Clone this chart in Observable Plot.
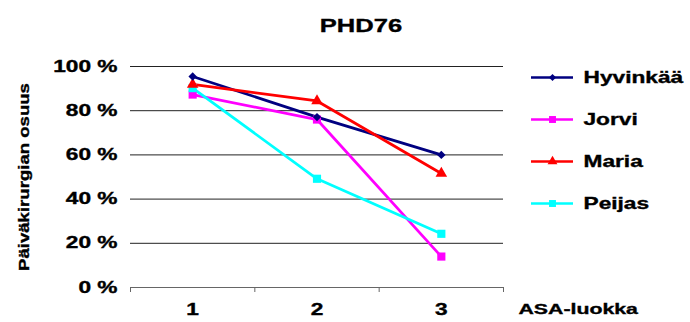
<!DOCTYPE html>
<html><head><meta charset="utf-8">
<script src="https://cdn.jsdelivr.net/npm/d3@7"></script>
<script src="https://cdn.jsdelivr.net/npm/@observablehq/plot@0.6"></script>
<style>
body{margin:0;background:#fff;}
#wrap{position:relative;width:690px;height:322px;overflow:hidden;}
#legend{position:absolute;left:520px;top:53px;}
#chart{position:absolute;left:0;top:0;}
</style></head><body><div id="wrap"><div id="chart"></div><div id="legend"></div></div>
<script>
const title = "PHD76";
const yLabel = "Päiväkirurgian osuus";
const xLabel = "ASA-luokka";
const categories = [1, 2, 3];
const yTicks = [0, 20, 40, 60, 80, 100];
const seriesNames = ["Hyvinkää", "Jorvi", "Maria", "Peijas"];
const seriesColors = ["#000080", "#FF00FF", "#FF0000", "#00FFFF"];
const seriesSymbols = ["diamond2", "square", "triangle", "square"];
const hyvinkaa = [95.5, 77.1, 60.0];
const jorvi = [87.3, 76.0, 14.0];
const maria = [91.9, 84.4, 51.6];
const peijas = [90.2, 49.2, 24.3];

const values = [hyvinkaa, jorvi, maria, peijas];
const data = seriesNames.flatMap((s, i) => categories.map((c, j) => ({series: s, asa: c, value: values[i][j]})));
const bounds = categories.map(c => c - 0.5).concat([categories[categories.length - 1] + 0.5]);
const FONT = '"Liberation Sans", Arial, sans-serif';
const rFor = s => s === "Hyvinkää" ? 3.8 : s === "Maria" ? 4.3 : 4.6;

function stretch(svg, s, special) {
  svg.querySelectorAll("text").forEach(t => {
    const k = (special && special[t.textContent]) || s;
    t.setAttribute("transform", (t.getAttribute("transform") || "") + ` scale(${k},1)`);
    t.style.stroke = "#000";
    t.style.strokeWidth = "0.35px";
  });
}

const chart = Plot.plot({
  width: 690, height: 322,
  marginLeft: 130, marginRight: 187, marginTop: 66, marginBottom: 35,
  x: {domain: [bounds[0], bounds[bounds.length - 1]]},
  y: {domain: [0, 100]},
  color: {domain: seriesNames, range: seriesColors},
  symbol: {domain: seriesNames, range: seriesSymbols},
  r: {type: "identity"},
  style: {fontFamily: FONT, fontSize: "16px", fontWeight: "bold", color: "#000", background: "#fff", overflow: "visible"},
  marks: [
    Plot.ruleY(yTicks.filter(d => d > 0), {stroke: "#222", strokeWidth: 1}),
    Plot.ruleY([0], {stroke: "#666", strokeWidth: 1}),
    Plot.axisX(bounds, {tickSize: 5, tickFormat: () => "", stroke: "#666", label: null}),
    Plot.axisX(categories, {tickSize: 0, tickPadding: 16, tickFormat: d => String(d), fontSize: 16, fontWeight: "bold", fill: "#000", label: null}),
    Plot.axisY(yTicks, {tickSize: 0, tickPadding: 13, tickFormat: d => d + " %", fontSize: 16, fontWeight: "bold", fill: "#000", label: null}),
    Plot.line(data, {x: "asa", y: "value", z: "series", stroke: "series", strokeWidth: 2.75}),
    Plot.dot(data, {x: "asa", y: "value", fill: "series", symbol: "series", r: d => rFor(d.series), stroke: "none"}),
    Plot.text([yLabel], {frameAnchor: "left", textAnchor: "middle", rotate: -90, dx: -106, dy: 0, fontSize: 15, fontWeight: "bold", fill: "#000"}),
    Plot.text([xLabel], {frameAnchor: "bottom-right", textAnchor: "start", dx: 15, dy: 26, fontSize: 15, fontWeight: "bold", fill: "#000"}),
    Plot.text([title], {frameAnchor: "top", dx: 44, dy: -47, fontSize: 18, fontWeight: "bold", fill: "#000"})
  ]
});
stretch(chart, 1.42, {[yLabel]: 1.24, [xLabel]: 1.42});
document.getElementById("chart").appendChild(chart);

const legend = Plot.plot({
  width: 170, height: 174, margin: 0,
  x: {domain: [0, 1], range: [11, 53], axis: null},
  y: {domain: seriesNames, range: [0, 174], type: "band", axis: null},
  color: {domain: seriesNames, range: seriesColors},
  symbol: {domain: seriesNames, range: seriesSymbols},
  r: {type: "identity"},
  style: {fontFamily: FONT, fontSize: "16px", fontWeight: "bold", color: "#000", background: "transparent", overflow: "visible"},
  marks: [
    Plot.ruleY(seriesNames, {y: d => d, x1: 0, x2: 1, stroke: d => d, strokeWidth: 2.5}),
    Plot.dot(seriesNames, {x: 0.5, y: d => d, fill: d => d, symbol: d => d, r: d => rFor(d) * 0.85, stroke: "none"}),
    Plot.text(seriesNames, {x: 1, y: d => d, text: d => d, dx: 10, textAnchor: "start", fontSize: 16, fontWeight: "bold", fill: "#000"})
  ]
});
stretch(legend, 1.42);
document.getElementById("legend").appendChild(legend);
</script>
</body></html>
